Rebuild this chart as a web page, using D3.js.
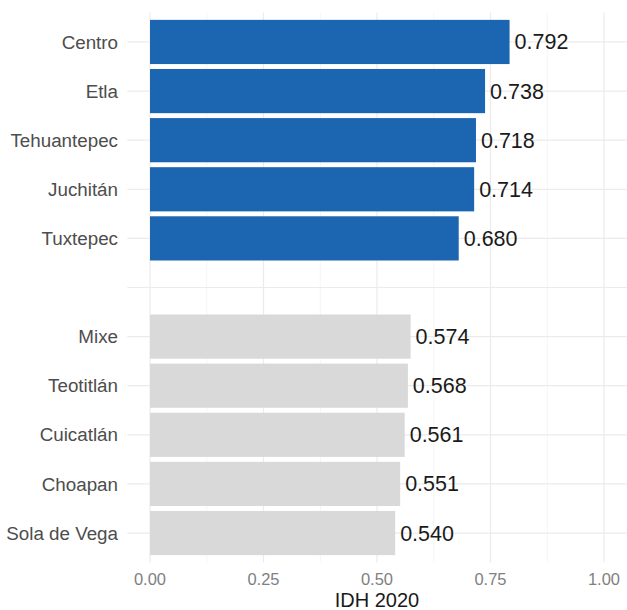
<!DOCTYPE html>
<html><head><meta charset="utf-8">
<script src="https://cdn.jsdelivr.net/npm/d3@7"></script>
<style>body{margin:0;background:#fff;} text{font-family:"Liberation Sans",Arial,sans-serif;}</style>
</head><body>
<svg id="c" width="627" height="610"></svg>
<script>
const categories = ["Centro","Etla","Tehuantepec","Juchitán","Tuxtepec","","Mixe","Teotitlán","Cuicatlán","Choapan","Sola de Vega"];
const values = [0.792,0.738,0.718,0.714,0.680,null,0.574,0.568,0.561,0.551,0.540];
const groups = ["top","top","top","top","top",null,"bottom","bottom","bottom","bottom","bottom"];
const xTicks = [0,0.25,0.5,0.75,1];
const xMinor = [0.125,0.375,0.625,0.875];
const colors = {top:"#1c65b1", bottom:"#d9d9d9"};

const svg = d3.select("#c");
const x = d3.scaleLinear().domain([-0.05,1.05]).range([127.3,626.7]);
const y = d3.scaleBand().domain(categories).range([12.5,562.5]).paddingInner(0.1).paddingOuter(0.15);

const grid = svg.append("g");
grid.selectAll(".mn").data(xMinor).join("line")
  .attr("x1",d=>x(d)).attr("x2",d=>x(d)).attr("y1",12.5).attr("y2",562.5)
  .attr("stroke","#f2f2f2").attr("stroke-width",0.8);
grid.selectAll(".mj").data(xTicks).join("line")
  .attr("x1",d=>x(d)).attr("x2",d=>x(d)).attr("y1",12.5).attr("y2",562.5)
  .attr("stroke","#ebebeb").attr("stroke-width",1.2);
grid.selectAll(".hy").data(categories).join("line")
  .attr("x1",127.3).attr("x2",626.7)
  .attr("y1",d=>y(d)+y.bandwidth()/2).attr("y2",d=>y(d)+y.bandwidth()/2)
  .attr("stroke","#ebebeb").attr("stroke-width",1.2);

const data = categories.map((c,i)=>({c,v:values[i],g:groups[i]})).filter(d=>d.v!==null);

svg.append("g").selectAll("rect").data(data).join("rect")
  .attr("x",x(0)).attr("y",d=>y(d.c))
  .attr("width",d=>x(d.v)-x(0)).attr("height",y.bandwidth())
  .attr("fill",d=>colors[d.g]);

svg.append("g").selectAll("text").data(data).join("text")
  .attr("x",d=>x(d.v)+5).attr("y",d=>y(d.c)+y.bandwidth()/2)
  .attr("dy","0.35em").attr("font-size",21.5).attr("fill","#1a1a1a")
  .text(d=>d3.format(".3f")(d.v));

// y axis labels
svg.append("g").selectAll("text").data(categories.filter(c=>c!=="")).join("text")
  .attr("x",118).attr("y",d=>y(d)+y.bandwidth()/2).attr("dy","0.35em")
  .attr("text-anchor","end").attr("font-size",18.8).attr("fill","#4d4d4d")
  .text(d=>d);

// x axis labels
svg.append("g").selectAll("text").data(xTicks).join("text")
  .attr("x",d=>x(d)).attr("y",579).attr("dy","0.35em")
  .attr("text-anchor","middle").attr("font-size",16.5).attr("fill","#808080")
  .text(d=>d3.format(".2f")(d));

svg.append("text").attr("x",(127.3+626.7)/2).attr("y",607).attr("text-anchor","middle")
  .attr("font-size",20).attr("fill","#1a1a1a").text("IDH 2020");
</script>
</body></html>
